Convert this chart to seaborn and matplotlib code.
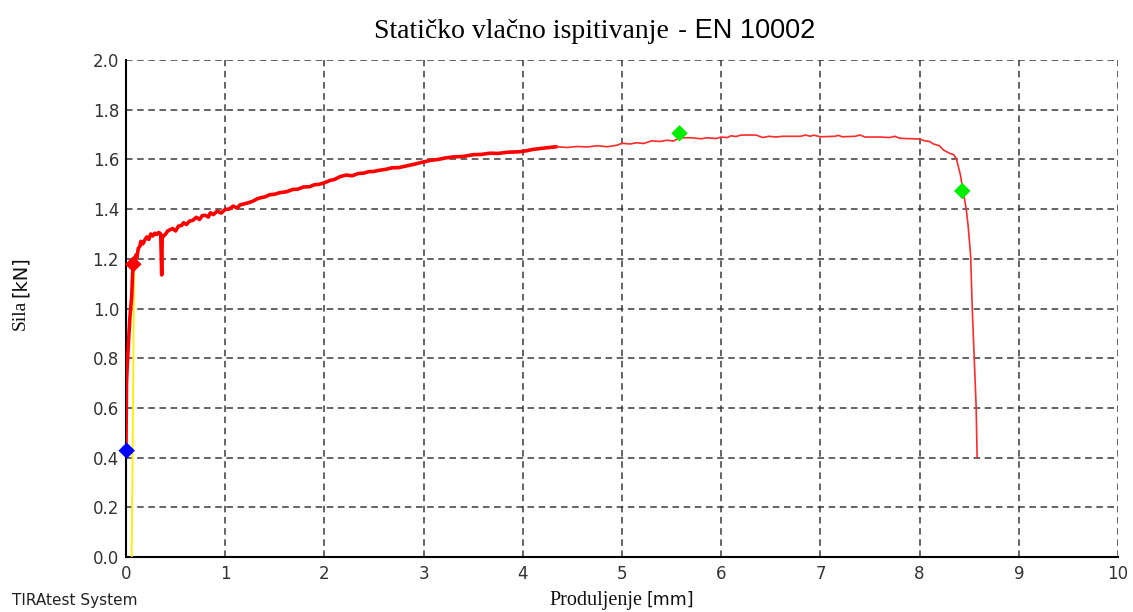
import matplotlib
matplotlib.use("Agg")
import matplotlib.pyplot as plt
import seaborn as sns
import pandas as pd

# ---- data ----
elong_noisy = [0.0, 0.0, 0.005, 0.017, 0.03, 0.04, 0.057, 0.067, 0.074,
               0.09, 0.10, 0.11, 0.124, 0.14, 0.15, 0.17, 0.19, 0.21, 0.23, 0.25, 0.27,
               0.29, 0.31, 0.33, 0.35, 0.36, 0.365, 0.376, 0.40, 0.42, 0.44, 0.47, 0.50,
               0.53, 0.56, 0.58, 0.61, 0.64, 0.67, 0.71, 0.74, 0.77, 0.80, 0.83, 0.85,
               0.88, 0.92, 0.96, 1.00, 1.04, 1.08, 1.12, 1.15, 1.19, 1.23, 1.28, 1.32,
               1.36, 1.40, 1.45, 1.50, 1.55, 1.62, 1.68, 1.73, 1.79, 1.85, 1.90, 1.95,
               2.00, 2.06, 2.10, 2.16, 2.22, 2.28, 2.34, 2.40, 2.45, 2.49, 2.55, 2.62,
               2.68, 2.75, 2.83, 2.90, 2.95, 3.00, 3.07, 3.15, 3.22, 3.30, 3.40, 3.50,
               3.58, 3.67, 3.75, 3.85, 3.93, 4.00, 4.10, 4.20, 4.34]
force_noisy = [0.33, 0.59, 0.70, 0.806, 0.90, 0.967, 1.047, 1.143, 1.182,
               1.20, 1.215, 1.205, 1.242, 1.25, 1.27, 1.26, 1.276, 1.288, 1.278, 1.30, 1.292,
               1.303, 1.298, 1.306, 1.30, 1.135, 1.29, 1.29, 1.30, 1.312, 1.316, 1.322, 1.312,
               1.332, 1.334, 1.345, 1.338, 1.352, 1.354, 1.367, 1.358, 1.374, 1.375, 1.368, 1.385,
               1.378, 1.392, 1.384, 1.399, 1.40, 1.412, 1.404, 1.417, 1.421, 1.425, 1.432, 1.441,
               1.446, 1.449, 1.458, 1.460, 1.466, 1.470, 1.479, 1.480, 1.489, 1.490, 1.498, 1.500,
               1.506, 1.516, 1.519, 1.531, 1.537, 1.534, 1.543, 1.545, 1.551, 1.551, 1.556, 1.560,
               1.566, 1.567, 1.574, 1.580, 1.585, 1.590, 1.596, 1.600, 1.606, 1.610, 1.612, 1.619,
               1.620, 1.625, 1.624, 1.629, 1.630, 1.632, 1.640, 1.645, 1.651]

elong_plateau = [4.34, 4.45, 4.55, 4.65, 4.75, 4.85, 4.95, 5.00, 5.08, 5.15, 5.22, 5.30,
                 5.38, 5.45, 5.52, 5.58, 5.70, 5.80, 5.85, 5.95, 6.00, 6.06, 6.10, 6.15,
                 6.20, 6.35, 6.42, 6.48, 6.55, 6.62, 6.80, 6.85, 6.90, 6.93, 7.00, 7.15,
                 7.18, 7.22, 7.35, 7.40, 7.45, 7.60, 7.70, 7.75, 7.80, 8.00, 8.05, 8.10,
                 8.14, 8.20, 8.24, 8.30, 8.34, 8.37, 8.41, 8.44, 8.47, 8.49, 8.515, 8.53,
                 8.55, 8.57, 8.575, 8.58]
force_plateau = [1.651, 1.648, 1.652, 1.650, 1.655, 1.651, 1.657, 1.665, 1.662, 1.667, 1.664, 1.675,
                 1.672, 1.677, 1.674, 1.687, 1.687, 1.683, 1.687, 1.684, 1.690, 1.688, 1.695, 1.692,
                 1.698, 1.698, 1.688, 1.693, 1.690, 1.693, 1.693, 1.698, 1.693, 1.698, 1.691, 1.693,
                 1.697, 1.691, 1.693, 1.698, 1.690, 1.690, 1.688, 1.693, 1.685, 1.682, 1.675, 1.672,
                 1.662, 1.655, 1.638, 1.625, 1.620, 1.604, 1.54, 1.47, 1.40, 1.33, 1.21, 1.007,
                 0.806, 0.605, 0.50, 0.40]

modulus_x = [0.057, 0.083]
modulus_y = [0.0, 1.18]

pt_names = ["start", "yield", "max", "break"]
pt_x = [0.007, 0.074, 5.58, 8.43]
pt_y = [0.428, 1.178, 1.705, 1.473]
pt_colors = ["#0000FF", "#FF0000", "#00EE00", "#00EE00"]

x_ticks = [0, 1, 2, 3, 4, 5, 6, 7, 8, 9, 10]
y_ticks = [0.0, 0.2, 0.4, 0.6, 0.8, 1.0, 1.2, 1.4, 1.6, 1.8, 2.0]

title_serif = "Statičko vlačno ispitivanje"
title_sans = "- EN 10002"
xlabel_serif, xlabel_sans = "Produljenje", "[mm]"
ylabel_serif, ylabel_sans = "Sila", "[kN]"
footer = "TIRAtest System"

# ---- figure ----
sns.set_theme(style="white")
plt.rcParams["font.family"] = ["DejaVu Sans"]

W, H = 1133, 612
fig = plt.figure(figsize=(W / 100, H / 100), dpi=100)
ax = fig.add_axes([126 / W, 1 - 557 / H, (1118 - 126) / W, (557 - 60) / H])

df_noisy = pd.DataFrame({"x": elong_noisy, "y": force_noisy})
df_plat = pd.DataFrame({"x": elong_plateau, "y": force_plateau})
df_mod = pd.DataFrame({"x": modulus_x, "y": modulus_y})
df_pts = pd.DataFrame({"x": pt_x, "y": pt_y, "name": pt_names})

sns.lineplot(data=df_mod, x="x", y="y", sort=False, color="#FFEE00", lw=1.3, ax=ax, zorder=3)
sns.lineplot(data=df_noisy, x="x", y="y", sort=False, color="#FF0000", lw=2.6, ax=ax, zorder=4)
sns.lineplot(data=df_plat, x="x", y="y", sort=False, color="#FF2A2A", lw=1.2, ax=ax, zorder=4)
sns.scatterplot(data=df_pts, x="x", y="y", hue="name", palette=pt_colors, marker="D",
                s=70, edgecolor="none", legend=False, ax=ax, zorder=5, clip_on=False)

ax.set_xlim(0, 10)
ax.set_ylim(0, 2.0)
ax.set_xticks(x_ticks)
ax.set_yticks(y_ticks)
ax.set_xticklabels([str(t) for t in x_ticks])
ax.set_yticklabels([f"{t:.1f}" for t in y_ticks])
ax.tick_params(axis="both", length=0, labelsize=12, labelcolor="#333333")
ax.tick_params(axis="x", pad=6)
ax.tick_params(axis="y", pad=5)
ax.set_xlabel("")
ax.set_ylabel("")

ax.grid(True, linestyle=(0, (4.3, 3.0)), color="#3a3a3a", lw=1.1)
for s in ["top", "right"]:
    ax.spines[s].set_visible(False)
for s in ["left", "bottom"]:
    ax.spines[s].set_color("black")
    ax.spines[s].set_linewidth(1.5)

# title in two fonts
fig.text(669 / W, 1 - 38 / H, title_serif, ha="right", va="baseline",
         family="Liberation Serif", fontsize=20, color="black")
fig.text(678 / W, 1 - 38 / H, title_sans, ha="left", va="baseline",
         family="Liberation Sans", fontsize=19.5, color="black")

# x label
fig.text(642 / W, 1 - 605 / H, xlabel_serif, ha="right", va="baseline",
         family="Liberation Serif", fontsize=14.5, color="#111111")
fig.text(647 / W, 1 - 605 / H, xlabel_sans, ha="left", va="baseline",
         family="DejaVu Sans", fontsize=12.5, color="#111111")

# y label (rotated)
fig.text(20 / W, 1 - 300 / H, ylabel_serif, ha="center", va="top", rotation=90,
         family="Liberation Serif", fontsize=14, color="#111111")
fig.text(20 / W, 1 - 297 / H, ylabel_sans, ha="center", va="bottom", rotation=90,
         family="DejaVu Sans", fontsize=14, color="#111111")

fig.text(12 / W, 1 - 605 / H, footer, ha="left", va="baseline",
         family="DejaVu Sans", fontsize=11, color="#222222")

fig.savefig("out.png", dpi=100, facecolor="white")
